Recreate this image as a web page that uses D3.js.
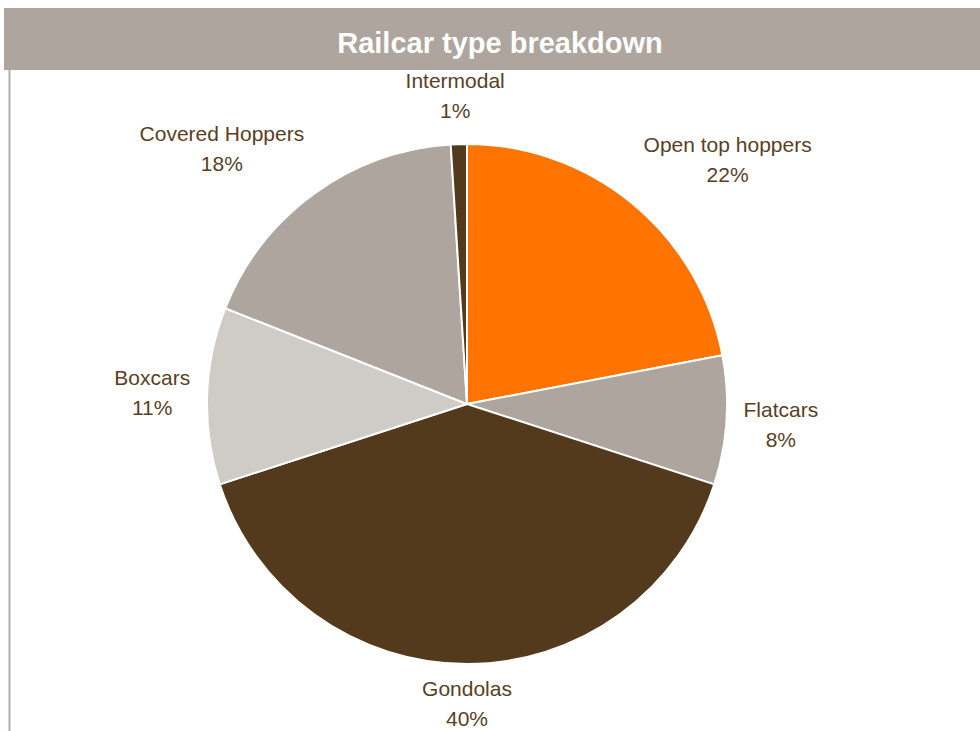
<!DOCTYPE html>
<html>
<head>
<meta charset="utf-8">
<script src="https://cdn.jsdelivr.net/npm/d3@7"></script>
<style>
  html, body { margin: 0; padding: 0; background: #fff; }
  svg { display: block; }
</style>
</head>
<body>
<svg id="chart" width="980" height="731"></svg>
<script>
const title = "Railcar type breakdown";
const categories = ["Open top hoppers", "Flatcars", "Gondolas", "Boxcars", "Covered Hoppers", "Intermodal"];
const values = [22, 8, 40, 11, 18, 1];
const colors = ["#FF7300", "#ADA59E", "#533A1D", "#CFCBC7", "#ADA59E", "#533A1D"];

const W = 980, H = 731;
const svg = d3.select("#chart");
const cx = 467, cy = 404, R = 260;

// frame
svg.append("rect").attr("x", 4).attr("y", 8).attr("width", W - 4).attr("height", 62).attr("fill", "#ADA59E");
svg.append("line").attr("x1", 9.5).attr("x2", 9.5).attr("y1", 70).attr("y2", H).attr("stroke", "#B3ACA5").attr("stroke-width", 2);
svg.append("text").attr("x", 500).attr("y", 53).attr("text-anchor", "middle")
  .attr("font-family", "Liberation Sans, Arial, sans-serif").attr("font-weight", "bold")
  .attr("font-size", 29).attr("fill", "#fff").text(title);

const data = categories.map((c, i) => ({ name: c, value: values[i], color: colors[i] }));
const pie = d3.pie().value(d => d.value).sort(null);
const arcs = pie(data);
const arc = d3.arc().innerRadius(0).outerRadius(R);

const g = svg.append("g").attr("transform", `translate(${cx},${cy})`);
g.selectAll("path").data(arcs).join("path")
  .attr("d", arc).attr("fill", d => d.data.color)
  .attr("stroke", "#fff").attr("stroke-width", 2).attr("stroke-linejoin", "round");

const fmt = d3.format(".0%");
const total = d3.sum(values);
const labelColor = "#5A3F1F";
const anchorR = R + 17, lineH = 30, boxH = 62, k = 2;
const clamp = v => Math.max(-1, Math.min(1, v));
const maxCenterY = (H - 27) - cy; // keep label box inside the chart area

arcs.forEach(a => {
  const mid = (a.startAngle + a.endAngle) / 2;
  const sx = Math.sin(mid), sy = -Math.cos(mid);
  const lg = g.append("g");
  const t1 = lg.append("text").attr("text-anchor", "middle")
    .attr("font-family", "Liberation Sans, Arial, sans-serif").attr("font-size", 21)
    .attr("fill", labelColor).attr("y", -lineH / 2 + 7).text(a.data.name);
  const t2 = lg.append("text").attr("text-anchor", "middle")
    .attr("font-family", "Liberation Sans, Arial, sans-serif").attr("font-size", 21)
    .attr("fill", labelColor).attr("y", lineH / 2 + 7).text(fmt(a.data.value / total));
  const w = Math.max(t1.node().getComputedTextLength(), t2.node().getComputedTextLength());
  const ax = anchorR * sx, ay = anchorR * sy;
  const lx = ax + clamp(k * sx) * w / 2;
  const ly = Math.min(maxCenterY, ay + clamp(k * sy) * boxH / 2);
  lg.attr("transform", `translate(${lx},${ly})`);
});
</script>
</body>
</html>
